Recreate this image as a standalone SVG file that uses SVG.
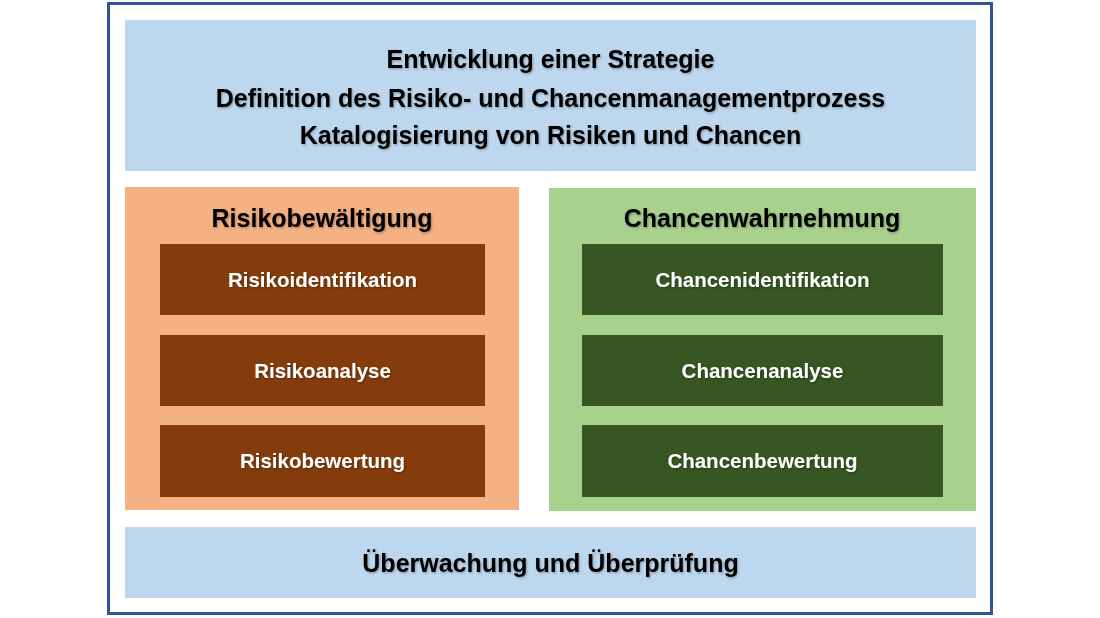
<svg xmlns="http://www.w3.org/2000/svg" width="1100" height="618" viewBox="0 0 1100 618">
<defs>
<filter id="sh" x="-5%" y="-20%" width="110%" height="140%">
<feDropShadow dx="1" dy="1.2" stdDeviation="0.8" flood-color="#000" flood-opacity="0.3"/>
</filter>
</defs>
<style>
text{font-family:"Liberation Sans",Arial,sans-serif;font-weight:bold;text-anchor:middle;filter:url(#sh)}
.big{font-size:25px;fill:#000}
.lbl{font-size:20.5px;fill:#fff}
.blue{fill:#BDD7EE}
.brown{fill:#843C0C}
.dg{fill:#375623}
</style>
<rect x="0" y="0" width="1100" height="618" fill="#fff"/>
<rect id="frame" x="108.5" y="3.5" width="883" height="610" fill="none" stroke="#2F5597" stroke-width="3"/>
<g id="top">
<rect class="blue" x="125" y="20" width="851" height="151"/>
<text class="big" x="550.5" y="68">Entwicklung einer Strategie</text>
<text class="big" x="550.5" y="107">Definition des Risiko- und Chancenmanagementprozess</text>
<text class="big" x="550.5" y="144">Katalogisierung von Risiken und Chancen</text>
</g>
<g id="risk">
<rect fill="#F4B183" x="125" y="187" width="394" height="323"/>
<text class="big" x="322" y="227">Risikobewältigung</text>
</g>
<g id="risk1"><rect class="brown" x="160" y="244" width="325" height="71"/><text class="lbl" x="322.5" y="287">Risikoidentifikation</text></g>
<g id="risk2"><rect class="brown" x="160" y="335" width="325" height="71"/><text class="lbl" x="322.5" y="378">Risikoanalyse</text></g>
<g id="risk3"><rect class="brown" x="160" y="425" width="325" height="72"/><text class="lbl" x="322.5" y="468">Risikobewertung</text></g>
<g id="chance">
<rect fill="#A9D18E" x="549" y="188" width="427" height="323"/>
<text class="big" x="762" y="227">Chancenwahrnehmung</text>
</g>
<g id="chance1"><rect class="dg" x="582" y="244" width="361" height="71"/><text class="lbl" x="762.5" y="287">Chancenidentifikation</text></g>
<g id="chance2"><rect class="dg" x="582" y="335" width="361" height="71"/><text class="lbl" x="762.5" y="378">Chancenanalyse</text></g>
<g id="chance3"><rect class="dg" x="582" y="425" width="361" height="72"/><text class="lbl" x="762.5" y="468">Chancenbewertung</text></g>
<g id="bottom">
<rect class="blue" x="125" y="527" width="851" height="71"/>
<text class="big" x="550.5" y="572">Überwachung und Überprüfung</text>
</g>
<g id="connectors"/>
</svg>
